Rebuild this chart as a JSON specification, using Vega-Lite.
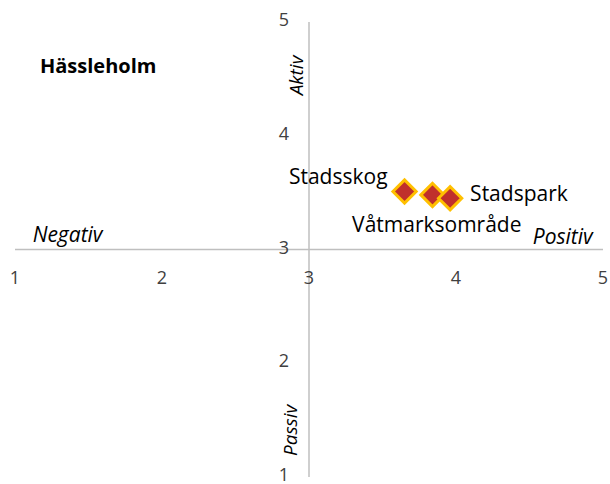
{
  "$schema": "https://vega.github.io/schema/vega-lite/v6.json",
  "width": 588,
  "height": 455,
  "autosize": {"type": "none"},
  "padding": {"left": 15, "top": 22, "right": 7, "bottom": 7},
  "background": "white",
  "config": {"view": {"stroke": null}, "text": {"font": "Open Sans"}},
  "datasets": {
    "points": [
      {"area": "Stadsskog", "pos": 3.65, "act": 3.51},
      {"area": "Våtmarksområde", "pos": 3.84, "act": 3.48},
      {"area": "Stadspark", "pos": 3.96, "act": 3.45}
    ],
    "ticks": [{"v": 1}, {"v": 2}, {"v": 3}, {"v": 4}, {"v": 5}],
    "cross": [{"v": 3}],
    "notes": [
      {"label": "Negativ", "x": 1.12, "y": 3.12, "kind": "h", "align": "left"},
      {"label": "Positiv", "x": 4.93, "y": 3.1, "kind": "h", "align": "right"},
      {"label": "Aktiv", "x": 2.92, "y": 4.53, "kind": "v"},
      {"label": "Passiv", "x": 2.88, "y": 1.41, "kind": "v"}
    ]
  },
  "layer": [
    {
      "data": {"name": "cross"},
      "mark": {"type": "rule", "color": "#BFBFBF", "strokeWidth": 1.5},
      "encoding": {
        "x": {"field": "v", "type": "quantitative", "scale": {"domain": [1, 5], "nice": false, "zero": false}, "axis": null}
      }
    },
    {
      "data": {"name": "cross"},
      "mark": {"type": "rule", "color": "#BFBFBF", "strokeWidth": 1.5},
      "encoding": {
        "y": {"field": "v", "type": "quantitative", "scale": {"domain": [1, 5], "nice": false, "zero": false}, "axis": null}
      }
    },
    {
      "data": {"name": "ticks"},
      "mark": {"type": "text", "fontSize": 18, "color": "#404040", "dy": 29, "align": "center", "baseline": "middle"},
      "encoding": {
        "x": {"field": "v", "type": "quantitative", "scale": {"domain": [1, 5], "nice": false, "zero": false}, "axis": null},
        "y": {"datum": 3, "type": "quantitative", "scale": {"domain": [1, 5], "nice": false, "zero": false}, "axis": null},
        "text": {"field": "v", "type": "quantitative"}
      }
    },
    {
      "data": {"name": "ticks"},
      "mark": {"type": "text", "fontSize": 18, "color": "#404040", "dx": -20, "dy": -1, "align": "right", "baseline": "middle"},
      "encoding": {
        "x": {"datum": 3, "type": "quantitative", "scale": {"domain": [1, 5], "nice": false, "zero": false}, "axis": null},
        "y": {"field": "v", "type": "quantitative", "scale": {"domain": [1, 5], "nice": false, "zero": false}, "axis": null},
        "text": {"field": "v", "type": "quantitative"}
      }
    },
    {
      "data": {"name": "notes"},
      "transform": [{"filter": "datum.kind == 'h' && datum.align == 'left'"}],
      "mark": {"type": "text", "fontSize": 21, "fontStyle": "italic", "color": "#000000", "align": "left", "baseline": "middle"},
      "encoding": {
        "x": {"field": "x", "type": "quantitative", "axis": null},
        "y": {"field": "y", "type": "quantitative", "axis": null},
        "text": {"field": "label"}
      }
    },
    {
      "data": {"name": "notes"},
      "transform": [{"filter": "datum.kind == 'h' && datum.align == 'right'"}],
      "mark": {"type": "text", "fontSize": 21, "fontStyle": "italic", "color": "#000000", "align": "right", "baseline": "middle"},
      "encoding": {
        "x": {"field": "x", "type": "quantitative", "axis": null},
        "y": {"field": "y", "type": "quantitative", "axis": null},
        "text": {"field": "label"}
      }
    },
    {
      "data": {"name": "notes"},
      "transform": [{"filter": "datum.kind == 'v'"}],
      "mark": {"type": "text", "fontSize": 19, "fontStyle": "italic", "color": "#000000", "align": "center", "baseline": "middle", "angle": 270},
      "encoding": {
        "x": {"field": "x", "type": "quantitative", "axis": null},
        "y": {"field": "y", "type": "quantitative", "axis": null},
        "text": {"field": "label"}
      }
    },
    {
      "data": {"name": "points"},
      "mark": {"type": "point", "shape": "diamond", "filled": true, "size": 540, "fill": "#C0302C", "stroke": "#FFC000", "strokeWidth": 3, "opacity": 1},
      "encoding": {
        "x": {"field": "pos", "type": "quantitative", "axis": null},
        "y": {"field": "act", "type": "quantitative", "axis": null}
      }
    },
    {
      "data": {"name": "points"},
      "transform": [{"filter": "datum.area == 'Stadsskog'"}],
      "mark": {"type": "text", "fontSize": 21, "color": "#000000", "align": "right", "baseline": "middle", "dx": -17, "dy": -13},
      "encoding": {
        "x": {"field": "pos", "type": "quantitative", "axis": null},
        "y": {"field": "act", "type": "quantitative", "axis": null},
        "text": {"field": "area"}
      }
    },
    {
      "data": {"name": "points"},
      "transform": [{"filter": "datum.area == 'Stadspark'"}],
      "mark": {"type": "text", "fontSize": 21, "color": "#000000", "align": "left", "baseline": "middle", "dx": 20, "dy": -3},
      "encoding": {
        "x": {"field": "pos", "type": "quantitative", "axis": null},
        "y": {"field": "act", "type": "quantitative", "axis": null},
        "text": {"field": "area"}
      }
    },
    {
      "data": {"name": "points"},
      "transform": [{"filter": "datum.area == 'Våtmarksområde'"}],
      "mark": {"type": "text", "fontSize": 21, "color": "#000000", "align": "right", "baseline": "middle", "dx": 89, "dy": 31},
      "encoding": {
        "x": {"field": "pos", "type": "quantitative", "axis": null},
        "y": {"field": "act", "type": "quantitative", "axis": null},
        "text": {"field": "area"}
      }
    },
    {
      "data": {"values": [{"t": "Hässleholm", "x": 1.17, "y": 4.605}]},
      "mark": {"type": "text", "fontSize": 20, "fontWeight": "bold", "color": "#000000", "align": "left", "baseline": "middle"},
      "encoding": {
        "x": {"field": "x", "type": "quantitative", "axis": null},
        "y": {"field": "y", "type": "quantitative", "axis": null},
        "text": {"field": "t"}
      }
    }
  ]
}
